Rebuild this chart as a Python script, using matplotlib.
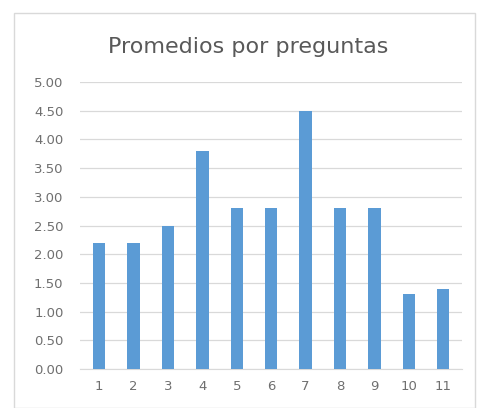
import matplotlib
matplotlib.use("Agg")
import matplotlib.pyplot as plt
from matplotlib.patches import Rectangle

categories = ["1", "2", "3", "4", "5", "6", "7", "8", "9", "10", "11"]
values = [2.2, 2.2, 2.5, 3.8, 2.8, 2.8, 4.5, 2.8, 2.8, 1.3, 1.4]
yticks = [0, 0.5, 1.0, 1.5, 2.0, 2.5, 3.0, 3.5, 4.0, 4.5, 5.0]
title = "Promedios por preguntas"

fig = plt.figure(figsize=(4.83, 4.08), dpi=100)
fig.patches.append(Rectangle((14/483, 0), (475-14)/483, (408-13)/408, transform=fig.transFigure,
                             fill=False, edgecolor="#d9d9d9", linewidth=1))
ax = fig.add_axes([0.166, 0.0956, 0.791, 0.7034])
x = list(range(len(categories)))
ax.bar(x, values, width=0.36, color="#5B9BD5", zorder=3)
ax.set_xlim(-0.55, len(categories) - 0.45)
ax.set_ylim(0, 5)
ax.set_yticks(yticks)
ax.set_yticklabels([f"{v:.2f}" for v in yticks])
ax.set_xticks(x)
ax.set_xticklabels(categories)
ax.grid(axis="y", color="#d9d9d9", linewidth=0.9, zorder=0)
for s in ["top", "right", "left"]:
    ax.spines[s].set_visible(False)
ax.spines["bottom"].set_color("#d9d9d9")
ax.tick_params(axis="both", length=0, colors="#6f6f6f", labelsize=9.5)
ax.tick_params(axis="y", pad=12)
ax.tick_params(axis="x", pad=8)
fig.text(0.513, 0.885, title, ha="center", va="center", fontsize=16, color="#595959")
fig.savefig("out.png", dpi=100)
